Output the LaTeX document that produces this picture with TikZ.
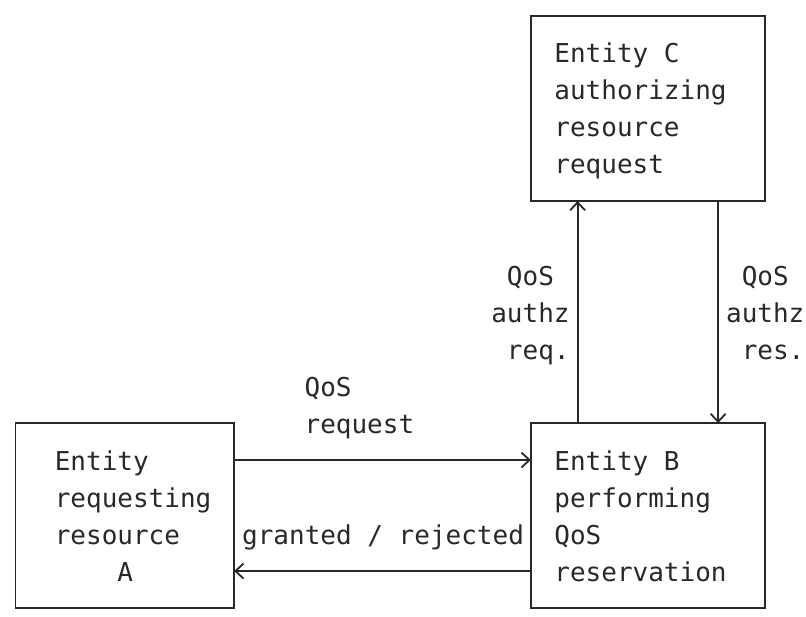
\documentclass[tikz,border=0pt]{standalone}
\usepackage{fontspec}
\setmonofont{DejaVu Sans Mono}
\usepackage{tikz}
\usetikzlibrary{arrows.meta,fit}

\definecolor{inkgray}{RGB}{40,40,40}
\tikzset{
  ascii/.style={font=\ttfamily\fontsize{26pt}{37pt}\selectfont, text=inkgray, inner sep=0pt},
  entity/.style={draw=inkgray, line width=1.8pt, inner sep=0pt, outer sep=0pt},
  flow/.style={draw=inkgray, line width=1.8pt, -{Straight Barb[length=8pt,width=15pt]}},
}

\begin{document}
\begin{tikzpicture}[x=15.61pt,y=-37pt]
\useasboundingbox (-0.999,-0.432) rectangle (50.63,16.216);

%Shape: Rectangle
\node [entity, fit={(33,0) (48,5)}] (C) {};
%Shape: Rectangle
\node [entity, fit={(33,11) (48,16)}] (B) {};
%Shape: Rectangle
\node [entity, fit={(0,11) (14,16)}] (A) {};

% Text Node (base = last line)
\node [ascii, anchor=base west, align=left] (Ctxt) at (34.5,4.27) {Entity C\\authorizing\\resource\\request};
% Text Node
\node [ascii, anchor=base west, align=left] (Btxt) at (34.5,15.27) {Entity B\\performing\\QoS\\reservation};
% Text Node
\node [ascii, anchor=base west, align=left] (Atxt) at (2.5,15.27) {Entity\\requesting\\resource\\\hphantom{xxxx}A};

%Straight Lines
\draw [flow] (A.east |- 0,12) -- (B.west |- 0,12);
%Straight Lines
\draw [flow] (B.west |- 0,15) -- (A.east |- 0,15);
%Straight Lines
\draw [flow] (B.north -| 36,0) -- (C.south -| 36,0);
%Straight Lines
\draw [flow] (C.south -| 45,0) -- (B.north -| 45,0);

% Text Node
\node [ascii, anchor=base west, align=left] (reqlbl) at (18.5,11.27) {QoS\\request};
% Text Node
\node [ascii, anchor=base west] (reslbl) at (14.5,14.27) {granted / rejected};
% Text Node
\node [ascii, anchor=base east, align=right] (azreq) at (35.5,9.27) {QoS\hphantom{.}\\authz\\req.};
% Text Node
\node [ascii, anchor=base west, align=left] (azres) at (45.5,9.27) {\hphantom{.}QoS\\authz\\\hphantom{.}res.};
\end{tikzpicture}
\end{document}
